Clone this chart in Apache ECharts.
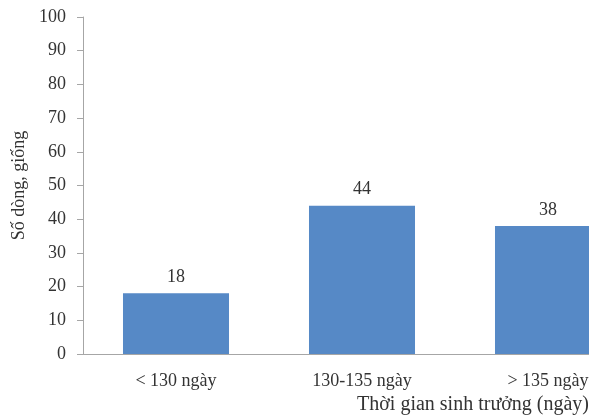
<!DOCTYPE html>
<html><head><meta charset="utf-8">
<script src="https://cdn.jsdelivr.net/npm/echarts@6/dist/echarts.min.js"></script>
<style>html,body{margin:0;padding:0;background:#fff}#c{width:589px;height:418px}</style>
</head><body><div id="c"></div>
<script>
const categories = ['< 130 ngày', '130-135 ngày', '> 135 ngày'];
const values = [18, 44, 38];
const yTicks = [0, 100, 10];
const yTitle = 'Số dòng, giống';
const xTitle = 'Thời gian sinh trưởng (ngày)';
const font = '"Liberation Serif", "DejaVu Serif", serif';
const chart = echarts.init(document.getElementById('c'));
chart.setOption({
  animation: false,
  grid: { left: 83, width: 558, top: 17, bottom: 64, outerBoundsMode: 'none', containLabel: false },
  xAxis: {
    type: 'category', data: categories,
    axisLine: { lineStyle: { color: '#a6a6a6', width: 1 } },
    axisTick: { show: false },
    axisLabel: { color: '#333', fontFamily: font, fontSize: 18, margin: 18 }
  },
  yAxis: {
    type: 'value', min: yTicks[0], max: yTicks[1], interval: yTicks[2],
    name: yTitle, nameLocation: 'middle', nameGap: 54, nameRotate: 90,
    nameTextStyle: { color: '#333', fontFamily: font, fontSize: 18 },
    axisLine: { show: true, lineStyle: { color: '#a6a6a6', width: 1 } },
    axisTick: { show: true, length: 6, lineStyle: { color: '#a6a6a6' } },
    axisLabel: { color: '#333', fontFamily: font, fontSize: 18, margin: 17 },
    splitLine: { show: false }
  },
  graphic: [{
    type: 'text', right: 0, top: 395,
    style: { text: xTitle, fill: '#333', font: '20px ' + font }
  }],
  series: [{
    type: 'bar', data: values, barWidth: '57%',
    itemStyle: { color: '#5689c6' },
    label: { show: true, position: 'top', distance: 7, color: '#333', fontFamily: font, fontSize: 18 }
  }]
});
</script></body></html>
